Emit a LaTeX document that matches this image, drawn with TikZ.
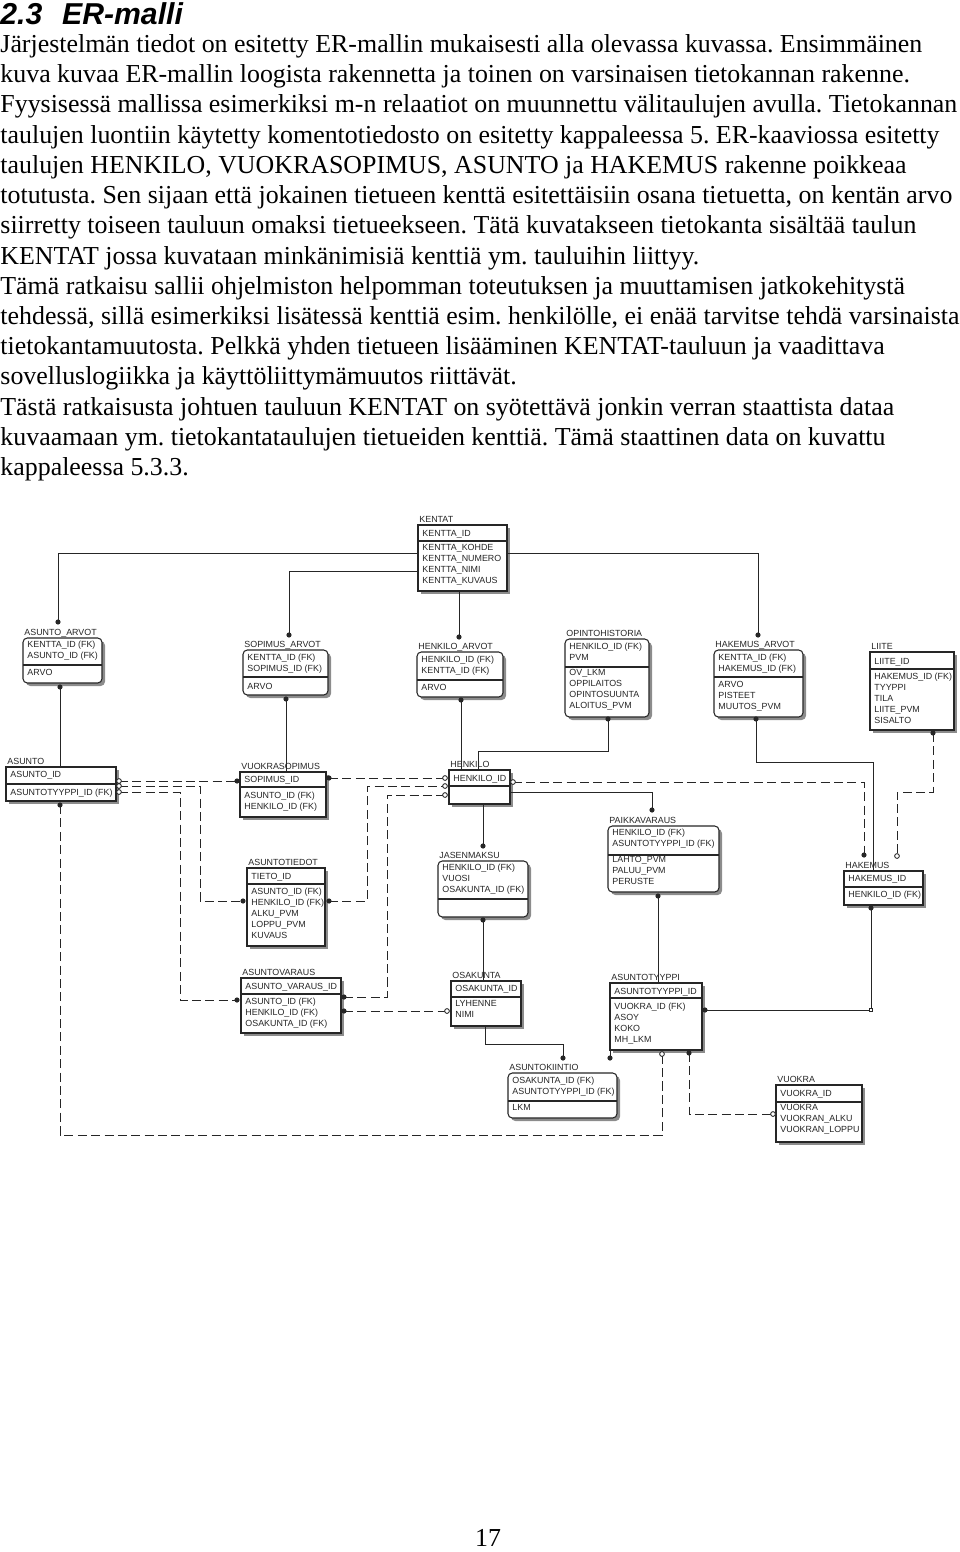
\documentclass[tikz,border=0pt]{standalone}
\usepackage{fontspec}
\setmainfont{Liberation Serif}
\newfontfamily\arialfont{Liberation Sans}
\newcommand\erfont{\arialfont\fontsize{4.12pt}{5.1pt}\selectfont}
\frenchspacing
\begin{document}
\begin{tikzpicture}[x=0.4635pt,y=-0.4635pt,
  tbl/.style={draw=black!85,line width=0.5pt,fill=white},
  shd/.style={fill=black!45},
  ttl/.style={anchor=base west,inner sep=0pt,font=\erfont,text=black!85},
  att/.style={anchor=north west,inner sep=0pt,align=left,font=\erfont,text=black!85,execute at begin node=\strut},
  rel/.style={draw=black!85,line width=0.45pt},
  nrel/.style={rel,dash pattern=on 4.2pt off 2pt},
  dot/.style={fill=black!85},
  odot/.style={draw=black!85,fill=white,line width=0.4pt}]
\useasboundingbox (0,0) rectangle (960,1552);
% text
\node[anchor=base west,inner sep=0pt,font=\arialfont\bfseries\itshape\fontsize{14pt}{16pt}\selectfont] (otsikko) at (0,24) {\makebox[28.6pt][l]{2.3}ER-malli};
\node[anchor=north west,inner sep=0pt,align=left,font=\fontsize{12pt}{14pt}\selectfont] (teksti) at (0,31) {\strut
Järjestelmän tiedot on esitetty ER-mallin mukaisesti alla olevassa kuvassa. Ensimmäinen\\
kuva kuvaa ER-mallin loogista rakennetta ja toinen on varsinaisen tietokannan rakenne.\\
Fyysisessä mallissa esimerkiksi m-n relaatiot on muunnettu välitaulujen avulla. Tietokannan\\
taulujen luontiin käytetty komentotiedosto on esitetty kappaleessa 5. ER-kaaviossa esitetty\\
taulujen HENKILO, VUOKRASOPIMUS, ASUNTO ja HAKEMUS rakenne poikkeaa\\
totutusta. Sen sijaan että jokainen tietueen kenttä esitettäisiin osana tietuetta, on kentän arvo\\
siirretty toiseen tauluun omaksi tietueekseen. Tätä kuvatakseen tietokanta sisältää taulun\\
KENTAT jossa kuvataan minkänimisiä kenttiä ym. tauluihin liittyy.\\
Tämä ratkaisu sallii ohjelmiston helpomman toteutuksen ja muuttamisen jatkokehitystä\\
tehdessä, sillä esimerkiksi lisätessä kenttiä esim. henkilölle, ei enää tarvitse tehdä varsinaista\\
tietokantamuutosta. Pelkkä yhden tietueen lisääminen KENTAT-tauluun ja vaadittava\\
sovelluslogiikka ja käyttöliittymämuutos riittävät.\\
Tästä ratkaisusta johtuen tauluun KENTAT on syötettävä jonkin verran staattista dataa\\
kuvaamaan ym. tietokantataulujen tietueiden kenttiä. Tämä staattinen data on kuvattu\\
kappaleessa 5.3.3.};
\node[anchor=base,inner sep=0pt,font=\fontsize{12pt}{14pt}\selectfont] (sivu) at (488,1546) {17};
% KENTAT
\fill[shd] (421,528) rectangle (510,594);
\draw[tbl] (418,525) rectangle (507,591); \draw[tbl] (418,541) -- (507,541);
\node[ttl] (kentat) at (419,522.5) {KENTAT};
\node[att] (kentat-k) at (422,528.5) {KENTTA\_ID};
\node[att] (kentat-a) at (422,543.5) {KENTTA\_KOHDE\\KENTTA\_NUMERO\\KENTTA\_NIMI\\KENTTA\_KUVAUS};
% ASUNTO_ARVOT
\fill[shd,rounded corners=2pt] (26,641) rectangle (105,686);
\draw[tbl,rounded corners=2pt] (23,638) rectangle (102,683); \draw[tbl] (23,665) -- (102,665);
\node[ttl] (asarvot) at (24,635.5) {ASUNTO\_ARVOT};
\node[att] (asarvot-k) at (27,640.5) {KENTTA\_ID (FK)\\ASUNTO\_ID (FK)};
\node[att] (asarvot-a) at (27,667.5) {ARVO};
% SOPIMUS_ARVOT
\fill[shd,rounded corners=2pt] (246,653) rectangle (331,698);
\draw[tbl,rounded corners=2pt] (243,650) rectangle (328,695); \draw[tbl] (243,677) -- (328,677);
\node[ttl] (soparvot) at (244,647.5) {SOPIMUS\_ARVOT};
\node[att] (soparvot-k) at (247,653.5) {KENTTA\_ID (FK)\\SOPIMUS\_ID (FK)};
\node[att] (soparvot-a) at (247,681.5) {ARVO};
% HENKILO_ARVOT
\fill[shd,rounded corners=2pt] (420,655) rectangle (506,700);
\draw[tbl,rounded corners=2pt] (417,652) rectangle (503,697); \draw[tbl] (417,680) -- (503,680);
\node[ttl] (henarvot) at (418,649.5) {HENKILO\_ARVOT};
\node[att] (henarvot-k) at (421,655.5) {HENKILO\_ID (FK)\\KENTTA\_ID (FK)};
\node[att] (henarvot-a) at (421,682.5) {ARVO};
% OPINTOHISTORIA
\fill[shd,rounded corners=2pt] (568,642) rectangle (652,720);
\draw[tbl,rounded corners=2pt] (565,639) rectangle (649,717); \draw[tbl] (565,667) -- (649,667);
\node[ttl] (ophist) at (566,636.5) {OPINTOHISTORIA};
\node[att] (ophist-k) at (569,642.5) {HENKILO\_ID (FK)\\PVM};
\node[att] (ophist-a) at (569,668.5) {OV\_LKM\\OPPILAITOS\\OPINTOSUUNTA\\ALOITUS\_PVM};
% HAKEMUS_ARVOT
\fill[shd,rounded corners=2pt] (717,653) rectangle (806,720);
\draw[tbl,rounded corners=2pt] (714,650) rectangle (803,717); \draw[tbl] (714,677) -- (803,677);
\node[ttl] (hakarvot) at (715,647.5) {HAKEMUS\_ARVOT};
\node[att] (hakarvot-k) at (718,653.5) {KENTTA\_ID (FK)\\HAKEMUS\_ID (FK)};
\node[att] (hakarvot-a) at (718,680.5) {ARVO\\PISTEET\\MUUTOS\_PVM};
% LIITE
\fill[shd] (873,655) rectangle (957,733);
\draw[tbl] (870,652) rectangle (954,730); \draw[tbl] (870,669) -- (954,669);
\node[ttl] (liite) at (871,649.5) {LIITE};
\node[att] (liite-k) at (874,656.5) {LIITE\_ID};
\node[att] (liite-a) at (874,672.5) {HAKEMUS\_ID (FK)\\TYYPPI\\TILA\\LIITE\_PVM\\SISALTO};
% ASUNTO
\fill[shd] (9,770) rectangle (119,804);
\draw[tbl] (6,767) rectangle (116,801); \draw[tbl] (6,784) -- (116,784);
\node[ttl] (asunto) at (7,764.5) {ASUNTO};
\node[att] (asunto-k) at (10,769.5) {ASUNTO\_ID};
\node[att] (asunto-a) at (10,787.5) {ASUNTOTYYPPI\_ID (FK)};
% VUOKRASOPIMUS
\fill[shd] (243,775) rectangle (329,820);
\draw[tbl] (240,772) rectangle (326,817); \draw[tbl] (240,787) -- (326,787);
\node[ttl] (vuosop) at (241,769.5) {VUOKRASOPIMUS};
\node[att] (vuosop-k) at (244,774.5) {SOPIMUS\_ID};
\node[att] (vuosop-a) at (244,791.5) {ASUNTO\_ID (FK)\\HENKILO\_ID (FK)};
% HENKILO
\fill[shd] (452,773) rectangle (513,807);
\draw[tbl] (449,770) rectangle (510,804); \draw[tbl] (449,786) -- (510,786);
\node[ttl] (henkilo) at (450,767.5) {HENKILO};
\node[att] (henkilo-k) at (453,773.5) {HENKILO\_ID};
% PAIKKAVARAUS
\fill[shd,rounded corners=2pt] (611,829) rectangle (722,895);
\draw[tbl,rounded corners=2pt] (608,826) rectangle (719,892); \draw[tbl] (608,855) -- (719,855);
\node[ttl] (paikvar) at (609,823.5) {PAIKKAVARAUS};
\node[att] (paikvar-k) at (612,828.5) {HENKILO\_ID (FK)\\ASUNTOTYYPPI\_ID (FK)};
\node[att] (paikvar-a) at (612,855.5) {LAHTO\_PVM\\PALUU\_PVM\\PERUSTE};
% HAKEMUS
\fill[shd] (847,874) rectangle (926,908);
\draw[tbl] (844,871) rectangle (923,905); \draw[tbl] (844,887) -- (923,887);
\node[ttl] (hakemus) at (845,868.5) {HAKEMUS};
\node[att] (hakemus-k) at (848,873.5) {HAKEMUS\_ID};
\node[att] (hakemus-a) at (848,889.5) {HENKILO\_ID (FK)};
% ASUNTOTIEDOT
\fill[shd] (250,871) rectangle (328,949);
\draw[tbl] (247,868) rectangle (325,946); \draw[tbl] (247,884) -- (325,884);
\node[ttl] (astied) at (248,865.5) {ASUNTOTIEDOT};
\node[att] (astied-k) at (251,871.5) {TIETO\_ID};
\node[att] (astied-a) at (251,887.5) {ASUNTO\_ID (FK)\\HENKILO\_ID (FK)\\ALKU\_PVM\\LOPPU\_PVM\\KUVAUS};
% JASENMAKSU
\fill[shd,rounded corners=2pt] (441,864) rectangle (531,920);
\draw[tbl,rounded corners=2pt] (438,861) rectangle (528,917); \draw[tbl] (438,899) -- (528,899);
\node[ttl] (jasmaksu) at (439,858.5) {JASENMAKSU};
\node[att] (jasmaksu-k) at (442,863.5) {HENKILO\_ID (FK)\\VUOSI\\OSAKUNTA\_ID (FK)};
% ASUNTOVARAUS
\fill[shd] (244,981) rectangle (344,1036);
\draw[tbl] (241,978) rectangle (341,1033); \draw[tbl] (241,994) -- (341,994);
\node[ttl] (asvar) at (242,975.5) {ASUNTOVARAUS};
\node[att] (asvar-k) at (245,981.5) {ASUNTO\_VARAUS\_ID};
\node[att] (asvar-a) at (245,997.5) {ASUNTO\_ID (FK)\\HENKILO\_ID (FK)\\OSAKUNTA\_ID (FK)};
% OSAKUNTA
\fill[shd] (454,984) rectangle (524,1029);
\draw[tbl] (451,981) rectangle (521,1026); \draw[tbl] (451,997) -- (521,997);
\node[ttl] (osakunta) at (452,978.5) {OSAKUNTA};
\node[att] (osakunta-k) at (455,983.5) {OSAKUNTA\_ID};
\node[att] (osakunta-a) at (455,999.5) {LYHENNE\\NIMI};
% ASUNTOTYYPPI
\fill[shd] (613,986) rectangle (705,1053);
\draw[tbl] (610,983) rectangle (702,1050); \draw[tbl] (610,998) -- (702,998);
\node[ttl] (astyyppi) at (611,980.5) {ASUNTOTYYPPI};
\node[att] (astyyppi-k) at (614,986.5) {ASUNTOTYYPPI\_ID};
\node[att] (astyyppi-a) at (614,1002.5) {VUOKRA\_ID (FK)\\ASOY\\KOKO\\MH\_LKM};
% ASUNTOKIINTIO
\fill[shd,rounded corners=2pt] (511,1076) rectangle (620,1121);
\draw[tbl,rounded corners=2pt] (508,1073) rectangle (617,1118); \draw[tbl] (508,1101) -- (617,1101);
\node[ttl] (askiint) at (509,1070.5) {ASUNTOKIINTIO};
\node[att] (askiint-k) at (512,1076.5) {OSAKUNTA\_ID (FK)\\ASUNTOTYYPPI\_ID (FK)};
\node[att] (askiint-a) at (512,1102.5) {LKM};
% VUOKRA
\fill[shd] (779,1088) rectangle (865,1145);
\draw[tbl] (776,1085) rectangle (862,1142); \draw[tbl] (776,1102) -- (862,1102);
\node[ttl] (vuokra) at (777,1082.5) {VUOKRA};
\node[att] (vuokra-k) at (780,1088.5) {VUOKRA\_ID};
\node[att] (vuokra-a) at (780,1103.5) {VUOKRA\\VUOKRAN\_ALKU\\VUOKRAN\_LOPPU};
% liitospisteet
\path
  coordinate (kt-w1) at (418,553)
  coordinate (kt-w2) at (418,571)
  coordinate (kt-s) at (459,591)
  coordinate (kt-e) at (507,553)
  coordinate (aa-t) at (58,622)
  coordinate (sa-t) at (289,635)
  coordinate (ha-t) at (459,637)
  coordinate (hka-t) at (758,635)
  coordinate (aa-s) at (60,687)
  coordinate (as-n) at (60,767)
  coordinate (sa-s) at (286,699)
  coordinate (vs-n) at (286,772)
  coordinate (ha-s) at (461,700)
  coordinate (hk-n1) at (461,770)
  coordinate (oh-s) at (608,719)
  coordinate (hk-n2) at (478,770)
  coordinate (hka-s) at (756,719)
  coordinate (hm-n1) at (873,871)
  coordinate (hk-e2) at (510,792)
  coordinate (pv-t) at (652,810)
  coordinate (hk-s) at (483,804)
  coordinate (jm-t) at (483,846)
  coordinate (jm-s) at (483,920)
  coordinate (ok-n) at (483,981)
  coordinate (pv-s) at (658,896)
  coordinate (at-n) at (658,983)
  coordinate (hm-s) at (871,908)
  coordinate (at-e) at (705,1010)
  coordinate (hm-kulma) at (871,1010)
  coordinate (ok-s) at (485,1026)
  coordinate (ak-t1) at (563,1058)
  coordinate (at-s1) at (610,1050)
  coordinate (ak-t2) at (610,1058)
  coordinate (as-e1) at (119,781)
  coordinate (vs-w) at (237,781)
  coordinate (as-e2) at (119,786)
  coordinate (ti-w) at (243,901)
  coordinate (as-e3) at (119,792)
  coordinate (av-w) at (237,1000)
  coordinate (vs-e) at (329,778)
  coordinate (hk-w1) at (445,778)
  coordinate (ti-e) at (329,901)
  coordinate (hk-w2) at (445,786)
  coordinate (av-e1) at (344,997)
  coordinate (hk-w3) at (445,795)
  coordinate (hk-e1) at (513,782)
  coordinate (hm-n2) at (864,855)
  coordinate (li-s) at (933,733)
  coordinate (hm-n3) at (897,856)
  coordinate (av-e2) at (344,1011)
  coordinate (ok-w) at (447,1011)
  coordinate (as-s) at (60,805)
  coordinate (at-s2) at (662,1054)
  coordinate (at-s3) at (689,1053)
  coordinate (vk-w) at (773,1114)
  ;
% tunnistavat suhteet
\draw[rel] (kt-w1) -| (aa-t);
\draw[rel] (kt-w2) -| (sa-t);
\draw[rel] (kt-s) -- (ha-t);
\draw[rel] (kt-e) -| (hka-t);
\draw[rel] (aa-s) -- (as-n);
\draw[rel] (sa-s) -- (vs-n);
\draw[rel] (ha-s) -- (hk-n1);
\draw[rel] (oh-s) -- ++(0,32) -| (hk-n2);
\draw[rel] (hka-s) -- ++(0,43) -| (hm-n1);
\draw[rel] (hk-e2) -| (pv-t);
\draw[rel] (hk-s) -- (jm-t);
\draw[rel] (jm-s) -- (ok-n);
\draw[rel] (pv-s) -- (at-n);
\draw[rel] (hm-s) |- (at-e);
\draw[rel] (ok-s) -- ++(0,18) -| (ak-t1);
\draw[rel] (at-s1) -- (ak-t2);
% ei-tunnistavat suhteet
\draw[nrel] (as-e1) -- (vs-w);
\draw[nrel] (as-e2) -- ++(81,0) |- (ti-w);
\draw[nrel] (as-e3) -- ++(61,0) |- (av-w);
\draw[nrel] (vs-e) -- (hk-w1);
\draw[nrel] (ti-e) -- ++(38,0) |- (hk-w2);
\draw[nrel] (av-e1) -- ++(43,0) |- (hk-w3);
\draw[nrel] (hk-e1) -| (hm-n2);
\draw[nrel] (li-s) -- ++(0,59) -| (hm-n3);
\draw[nrel] (av-e2) -- (ok-w);
\draw[nrel] (as-s) -- ++(0,330) -| (at-s2);
\draw[nrel] (at-s3) |- (vk-w);
% pallot
\fill[dot]
  (aa-t) circle (1.2pt) (sa-t) circle (1.2pt) (ha-t) circle (1.2pt)
  (hka-t) circle (1.2pt) (aa-s) circle (1.2pt) (sa-s) circle (1.2pt)
  (ha-s) circle (1.2pt) (oh-s) circle (1.2pt) (hka-s) circle (1.2pt)
  (pv-t) circle (1.2pt) (jm-t) circle (1.2pt) (jm-s) circle (1.2pt)
  (pv-s) circle (1.2pt) (hm-s) circle (1.2pt) (at-e) circle (1.2pt)
  (ak-t1) circle (1.2pt) (ak-t2) circle (1.2pt) (vs-w) circle (1.2pt)
  (ti-w) circle (1.2pt) (av-w) circle (1.2pt) (vs-e) circle (1.2pt)
  (ti-e) circle (1.2pt) (av-e1) circle (1.2pt) (hm-n2) circle (1.2pt)
  (li-s) circle (1.2pt) (av-e2) circle (1.2pt) (as-s) circle (1.2pt)
  (at-s3) circle (1.2pt);
\filldraw[odot]
  (as-e1) circle (1.1pt) (as-e2) circle (1.1pt) (as-e3) circle (1.1pt)
  (hk-w1) circle (1.1pt) (hk-w2) circle (1.1pt) (hk-w3) circle (1.1pt)
  (hk-e1) circle (1.1pt) (hm-n3) circle (1.1pt) (ok-w) circle (1.1pt)
  (at-s2) circle (1.1pt) (vk-w) circle (1.1pt);
\draw[rel,fill=white] (hm-kulma) +(-1.6,-1.6) rectangle +(1.6,1.6);
\end{tikzpicture}
\end{document}
